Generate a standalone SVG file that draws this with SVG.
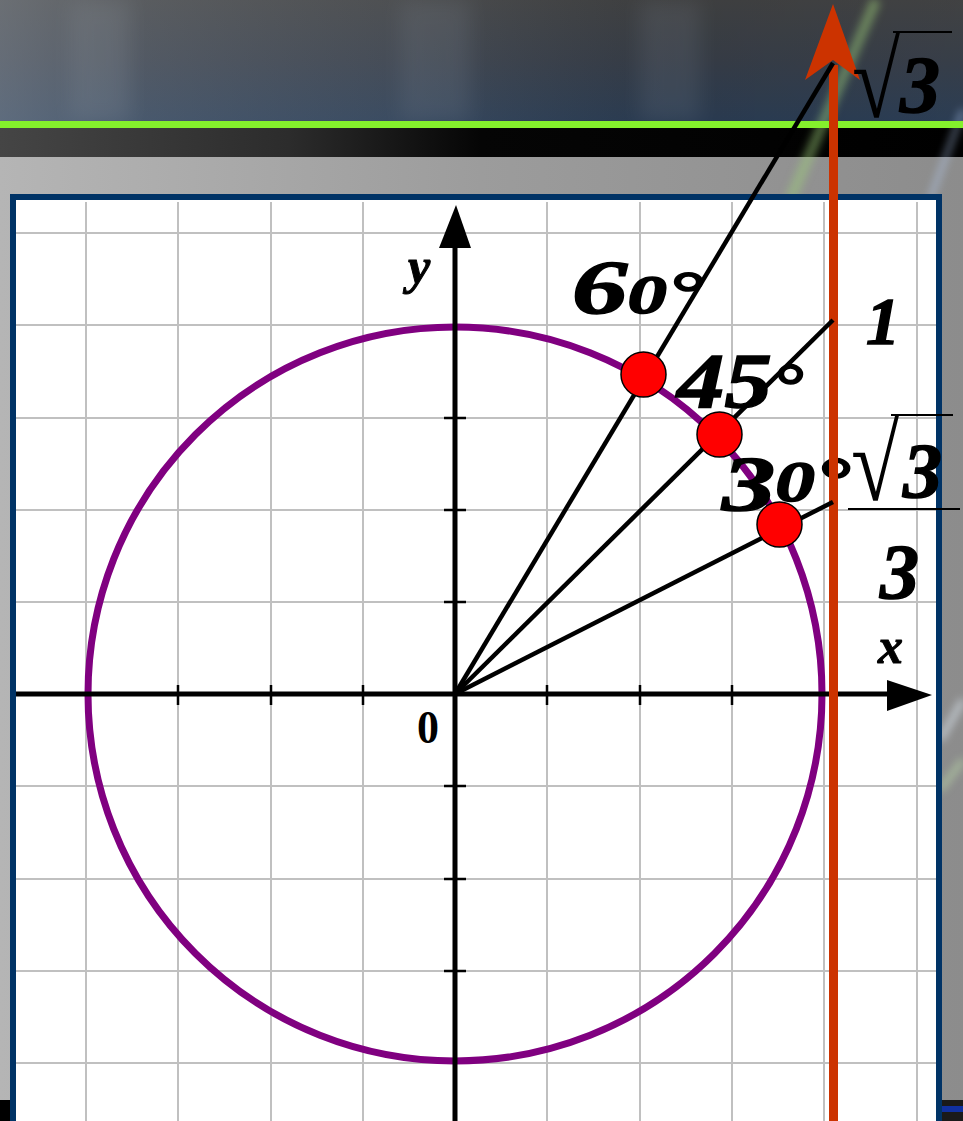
<svg xmlns="http://www.w3.org/2000/svg" width="963" height="1121" viewBox="0 0 963 1121">
<defs>
<linearGradient id="skyV" x1="0" y1="0" x2="0" y2="1">
<stop offset="0" stop-color="#444546"/>
<stop offset="0.5" stop-color="#3a414c"/>
<stop offset="1" stop-color="#2d4058"/>
</linearGradient>
<linearGradient id="skyH" x1="0" y1="0" x2="1" y2="0">
<stop offset="0" stop-color="#9aa2ac" stop-opacity="0.45"/>
<stop offset="0.15" stop-color="#9aa2ac" stop-opacity="0.25"/>
<stop offset="0.4" stop-color="#8a929c" stop-opacity="0.15"/>
<stop offset="0.7" stop-color="#000" stop-opacity="0.1"/>
<stop offset="1" stop-color="#000" stop-opacity="0.05"/>
</linearGradient>
<linearGradient id="darkBand" x1="0" y1="0" x2="1" y2="0">
<stop offset="0" stop-color="#454545"/>
<stop offset="0.3" stop-color="#2c2c2c"/>
<stop offset="0.5" stop-color="#050505"/>
<stop offset="1" stop-color="#000"/>
</linearGradient>
<linearGradient id="grayBand" x1="0" y1="0" x2="1" y2="0">
<stop offset="0" stop-color="#b5b5b5"/>
<stop offset="0.5" stop-color="#9c9c9c"/>
<stop offset="1" stop-color="#8c8c8c"/>
</linearGradient>
<filter id="blur" x="-50%" y="-50%" width="200%" height="200%"><feGaussianBlur stdDeviation="4"/></filter>
<filter id="blur2" x="-50%" y="-50%" width="200%" height="200%"><feGaussianBlur stdDeviation="10"/></filter>
<style>
.grid{stroke:#c0c0c0;stroke-width:2;fill:none}
.axis{stroke:#000;stroke-width:5;fill:none}
.tick{stroke:#000;stroke-width:2.5}
.ray{stroke:#000;stroke-width:4.5;fill:none}
.dot{fill:#ff0000;stroke:#000;stroke-width:1.5}
.num{font-family:"Liberation Serif","DejaVu Serif",serif;font-weight:bold;font-style:italic;fill:#000;stroke:#000;stroke-width:1.5}
.rad{font-family:"Liberation Serif","DejaVu Serif",serif;font-weight:normal;fill:#000}
.lbl{font-family:"Liberation Serif","DejaVu Serif",serif;font-weight:bold;font-style:italic;fill:#000;stroke:#000;stroke-width:1}
.bar{stroke:#000;stroke-width:2}
</style>
</defs>

<g id="background">
<rect x="0" y="0" width="963" height="122" fill="url(#skyV)"/>
<rect x="0" y="0" width="963" height="122" fill="url(#skyH)"/>
<rect x="70" y="0" width="60" height="122" fill="#b0b8c0" opacity="0.12" filter="url(#blur2)"/>
<rect x="400" y="0" width="70" height="122" fill="#a0aab8" opacity="0.12" filter="url(#blur2)"/>
<rect x="640" y="0" width="60" height="122" fill="#a0aab8" opacity="0.12" filter="url(#blur2)"/>
<rect x="0" y="128" width="963" height="30" fill="url(#darkBand)"/>
<rect x="0" y="157" width="963" height="964" fill="url(#grayBand)"/>
<line x1="876" y1="0" x2="790" y2="200" stroke="#9fd07a" stroke-width="10" opacity="0.5" filter="url(#blur)"/>
<line x1="963" y1="110" x2="930" y2="200" stroke="#bcd6ff" stroke-width="4" opacity="0.6" filter="url(#blur)"/>
<line x1="963" y1="700" x2="940" y2="740" stroke="#e8f4ff" stroke-width="6" opacity="0.6" filter="url(#blur)"/>
<line x1="963" y1="760" x2="940" y2="790" stroke="#c8f0b0" stroke-width="6" opacity="0.5" filter="url(#blur)"/>
<rect x="0" y="121" width="963" height="7" fill="#84f02c"/>
<rect x="0" y="1100" width="12" height="21" fill="#000"/>
<rect x="940" y="1100" width="23" height="21" fill="#1a1a1a"/>
<rect x="940" y="1106" width="23" height="6" fill="#1030a0"/>
</g>

<g id="panel">
<rect x="13" y="197" width="926" height="940" fill="#ffffff" stroke="#003366" stroke-width="6"/>
</g>

<g id="grid">
<path class="grid" d="M86 202V1121M178 202V1121M271 202V1121M363 202V1121M547 202V1121M640 202V1121M732 202V1121M824 202V1121M917 202V1121"/>
<path class="grid" d="M16 233H936M16 325H936M16 418H936M16 510H936M16 602H936M16 786H936M16 879H936M16 971H936M16 1063H936"/>
</g>

<g id="circle">
<circle cx="455" cy="694" r="367" fill="none" stroke="#800080" stroke-width="7"/>
</g>

<g id="axes">
<line class="axis" x1="16" y1="694" x2="890" y2="694"/>
<polygon points="887,680 932,695 887,711" fill="#000"/>
<line class="axis" x1="455" y1="245" x2="455" y2="1121"/>
<polygon points="439,248 456,205 471,248" fill="#000"/>
<path class="tick" d="M178 685V705M271 685V705M363 685V705M547 685V705M640 685V705M732 685V705"/>
<path class="tick" d="M444 418H466M444 510H466M444 602H466M444 786H466M444 879H466M444 971H466"/>
<text class="lbl" x="408" y="283" font-size="50">y</text>
<text class="lbl" x="878" y="663" font-size="50">x</text>
<text x="417" y="743" font-size="46" font-family="Liberation Serif, serif" font-weight="bold" fill="#000" textLength="22" lengthAdjust="spacingAndGlyphs">0</text>
</g>

<g id="angle-labels">
<text class="num" x="572" y="313" font-size="76" textLength="131" lengthAdjust="spacingAndGlyphs">6<tspan font-size="54">0</tspan><tspan font-size="62">°</tspan></text>
<text class="num" x="677" y="407" font-size="78" textLength="126" lengthAdjust="spacingAndGlyphs">45<tspan font-size="64">°</tspan></text>
<text class="num" x="722" y="510" font-size="78" textLength="128" lengthAdjust="spacingAndGlyphs">3<tspan font-size="58" dy="-9">0</tspan><tspan font-size="64" dy="0">°</tspan></text>
</g>

<g id="tangent-line">
<line x1="833.5" y1="65" x2="833.5" y2="1121" stroke="#cc3300" stroke-width="9"/>
<polygon points="833,4 860,80 833,60 805,80" fill="#cc3300"/>
</g>

<g id="connectors">
<line class="ray" x1="455" y1="694" x2="833" y2="63"/>
<line class="ray" x1="455" y1="694" x2="833" y2="320"/>
<line class="ray" x1="455" y1="694" x2="833" y2="502"/>
</g>

<g id="points">
<circle class="dot" cx="643.5" cy="374.5" r="22.5"/>
<circle class="dot" cx="719.5" cy="434.5" r="22.5"/>
<circle class="dot" cx="779.5" cy="524.5" r="22.5"/>
</g>

<g id="value-sqrt3">
<text class="rad" transform="translate(852,117) scale(1,1.23)" x="0" y="0" font-size="88">√</text>
<line class="bar" x1="893" y1="32" x2="952" y2="32"/>
<text class="num" x="900" y="112" font-size="80">3</text>
</g>

<g id="value-1">
<text class="num" x="866" y="344" font-size="68">1</text>
</g>

<g id="value-sqrt3-over-3">
<text class="rad" transform="translate(851,500) scale(1,1.23)" x="0" y="0" font-size="88">√</text>
<line class="bar" x1="891" y1="415" x2="953" y2="415"/>
<text class="num" x="903" y="497" font-size="78">3</text>
<line class="bar" x1="848" y1="509" x2="960" y2="509"/>
<text class="num" x="880" y="598" font-size="78">3</text>
</g>
</svg>
